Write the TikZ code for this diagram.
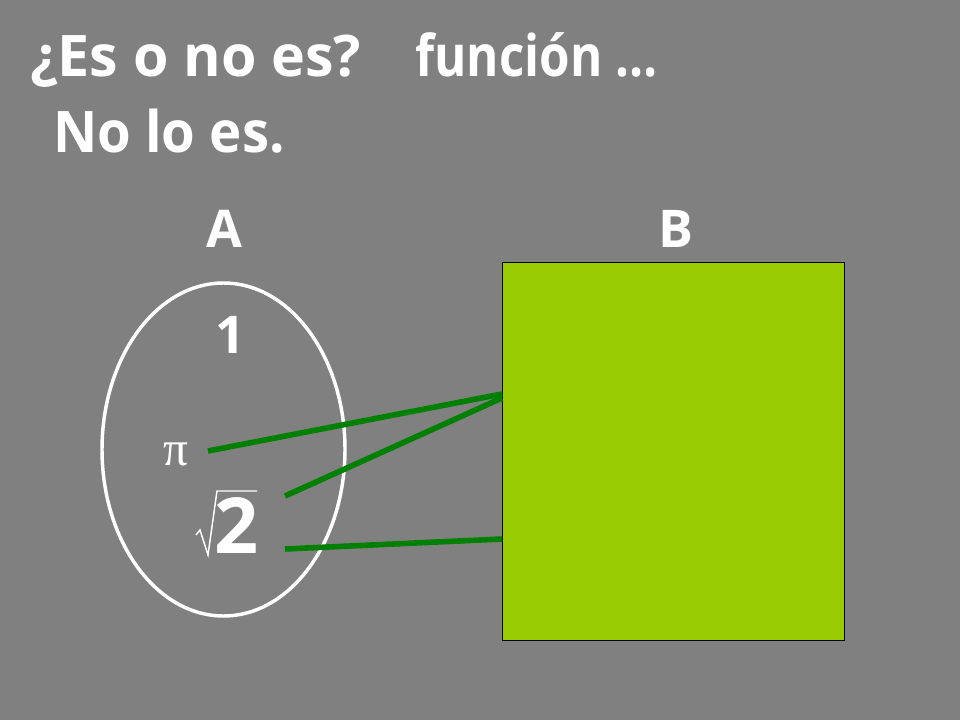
\documentclass[tikz,border=0pt]{standalone}
\usepackage{fontspec}
\setmainfont{Open Sans}[BoldFont={Open Sans Bold}]
\newfontfamily\pifont{Liberation Serif}
\definecolor{bg}{HTML}{808080}
\definecolor{boxfill}{HTML}{99CC00}
\definecolor{lnk}{HTML}{008000}
\tikzset{
  ttl/.style={text=white,font=\bfseries\fontsize{43}{50}\selectfont,anchor=base west,inner sep=0pt},
  lbl/.style={text=white,font=\bfseries\fontsize{39}{46}\selectfont,anchor=base,inner sep=0pt},
  link/.style={draw=lnk,line width=4.2pt},
}
\begin{document}
\begin{tikzpicture}[x=0.75pt,y=-0.75pt]
\fill[bg] (0,0) rectangle (960,720);
\useasboundingbox (0,0) rectangle (960,720);
\node[ttl] (t1) at (30,77) {¿Es o no es?};
\node[ttl,xscale=0.86] (t2) at (415,77) {función …};
\node[ttl,xscale=0.95] (t3) at (53,153) {No lo es.};
\node[lbl] (A) at (224,248) {A};
\node[lbl] (B) at (676,248) {B};
\draw[white,line width=2.6pt] (223.5,449.5) ellipse [x radius=121.5,y radius=166.5];
\node[draw=black,line width=0.75pt,fill=boxfill,minimum width=342*0.75pt,minimum height=378*0.75pt,anchor=north west,inner sep=0pt] (box) at (502,262) {};
\node[lbl] (one) at (230,353) {1};
\node[text=white,font=\pifont\fontsize{37}{40}\selectfont,anchor=base,inner sep=0pt] (pi) at (176,465) {π};
\node[text=white,font=\bfseries\fontsize{58}{62}\selectfont,anchor=base,inner sep=0pt] (two) at (237,553) {2};
\draw[white,line width=1.1pt,line join=miter] (196,535) -- (200,530) -- (208,555) -- (217,491) -- (257,491);
\coordinate (pe) at (208,451);
\coordinate (re1) at (285,496);
\coordinate (re2) at (285,549);
\coordinate (b1) at (502,394);
\coordinate (b2) at (502,398);
\coordinate (b3) at (502,539);
\draw[link] (pe) -- (b1);
\draw[link] (re1) -- (b2);
\draw[link] (re2) -- (b3);
\end{tikzpicture}
\end{document}
